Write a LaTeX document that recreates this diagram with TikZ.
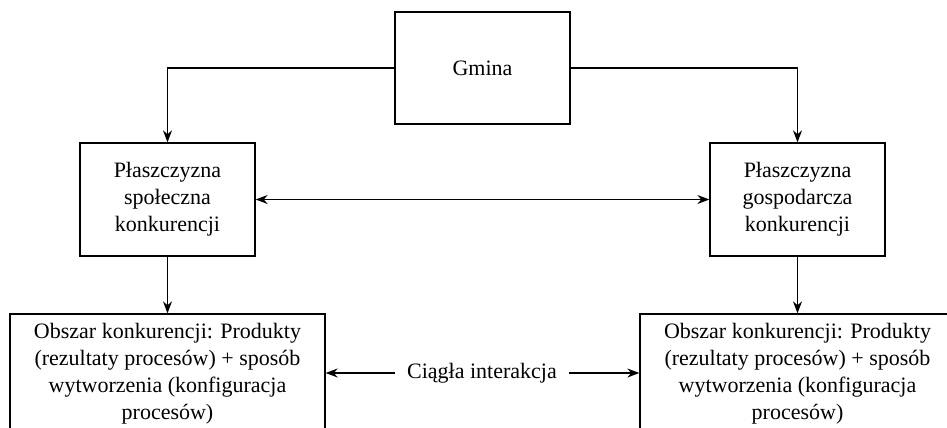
\documentclass[tikz,border=0pt]{standalone}
\usepackage{fontspec}
\setmainfont{Liberation Serif}
\usetikzlibrary{arrows.meta}
\tikzset{
    box/.style = {draw, line width = 0.65pt, align = center, inner sep = 0pt,
        font = \fontsize{11}{13.5}\selectfont},
    arr/.style = {line width = 0.65pt, -{Stealth[length = 6pt, width = 4.5pt]}},
    dblarr/.style = {line width = 0.65pt, {Stealth[length = 6pt, width = 4.5pt]}-{Stealth[length = 6pt, width = 4.5pt]}}
}
\begin{document}
\begin{tikzpicture}[x = 0.5pt, y = -0.5pt]
            \clip (0, 0) rectangle (947, 428);
            \node[box, minimum width = 87.5pt, minimum height = 56pt] (gmina) at (482.5, 68) {Gmina};
            \node[box, minimum width = 87.5pt, minimum height = 56.5pt] (spol) at (167.5, 199.5) {Płaszczyzna\\społeczna\\konkurencji};
            \node[box, minimum width = 87.5pt, minimum height = 56.5pt] (gosp) at (797.5, 199.5) {Płaszczyzna\\gospodarcza\\konkurencji};
            \node[box, minimum width = 157.5pt, minimum height = 60pt] (obszarL) at (167.5, 374) {Obszar konkurencji: Produkty\\(rezultaty procesów) + sposób\\wytworzenia (konfiguracja\\procesów)};
            \node[box, minimum width = 157.5pt, minimum height = 60pt] (obszarR) at (797.5, 374) {Obszar konkurencji: Produkty\\(rezultaty procesów) + sposób\\wytworzenia (konfiguracja\\procesów)};
            \node[font = \fontsize{11}{13.5}\selectfont, inner sep = 6pt] (inter) at (482, 373) {Ciągła interakcja};
            \draw[arr] (gmina.west) -| (spol.north);
            \draw[arr] (gmina.east) -| (gosp.north);
            \draw[dblarr] (spol) -- (gosp);
            \draw[arr] (spol) -- (obszarL);
            \draw[arr] (gosp) -- (obszarR);
            \draw[arr] (inter.west) -- (obszarL.east |- inter.west);
            \draw[arr] (inter.east) -- (obszarR.west |- inter.east);
        \end{tikzpicture}
\end{document}
